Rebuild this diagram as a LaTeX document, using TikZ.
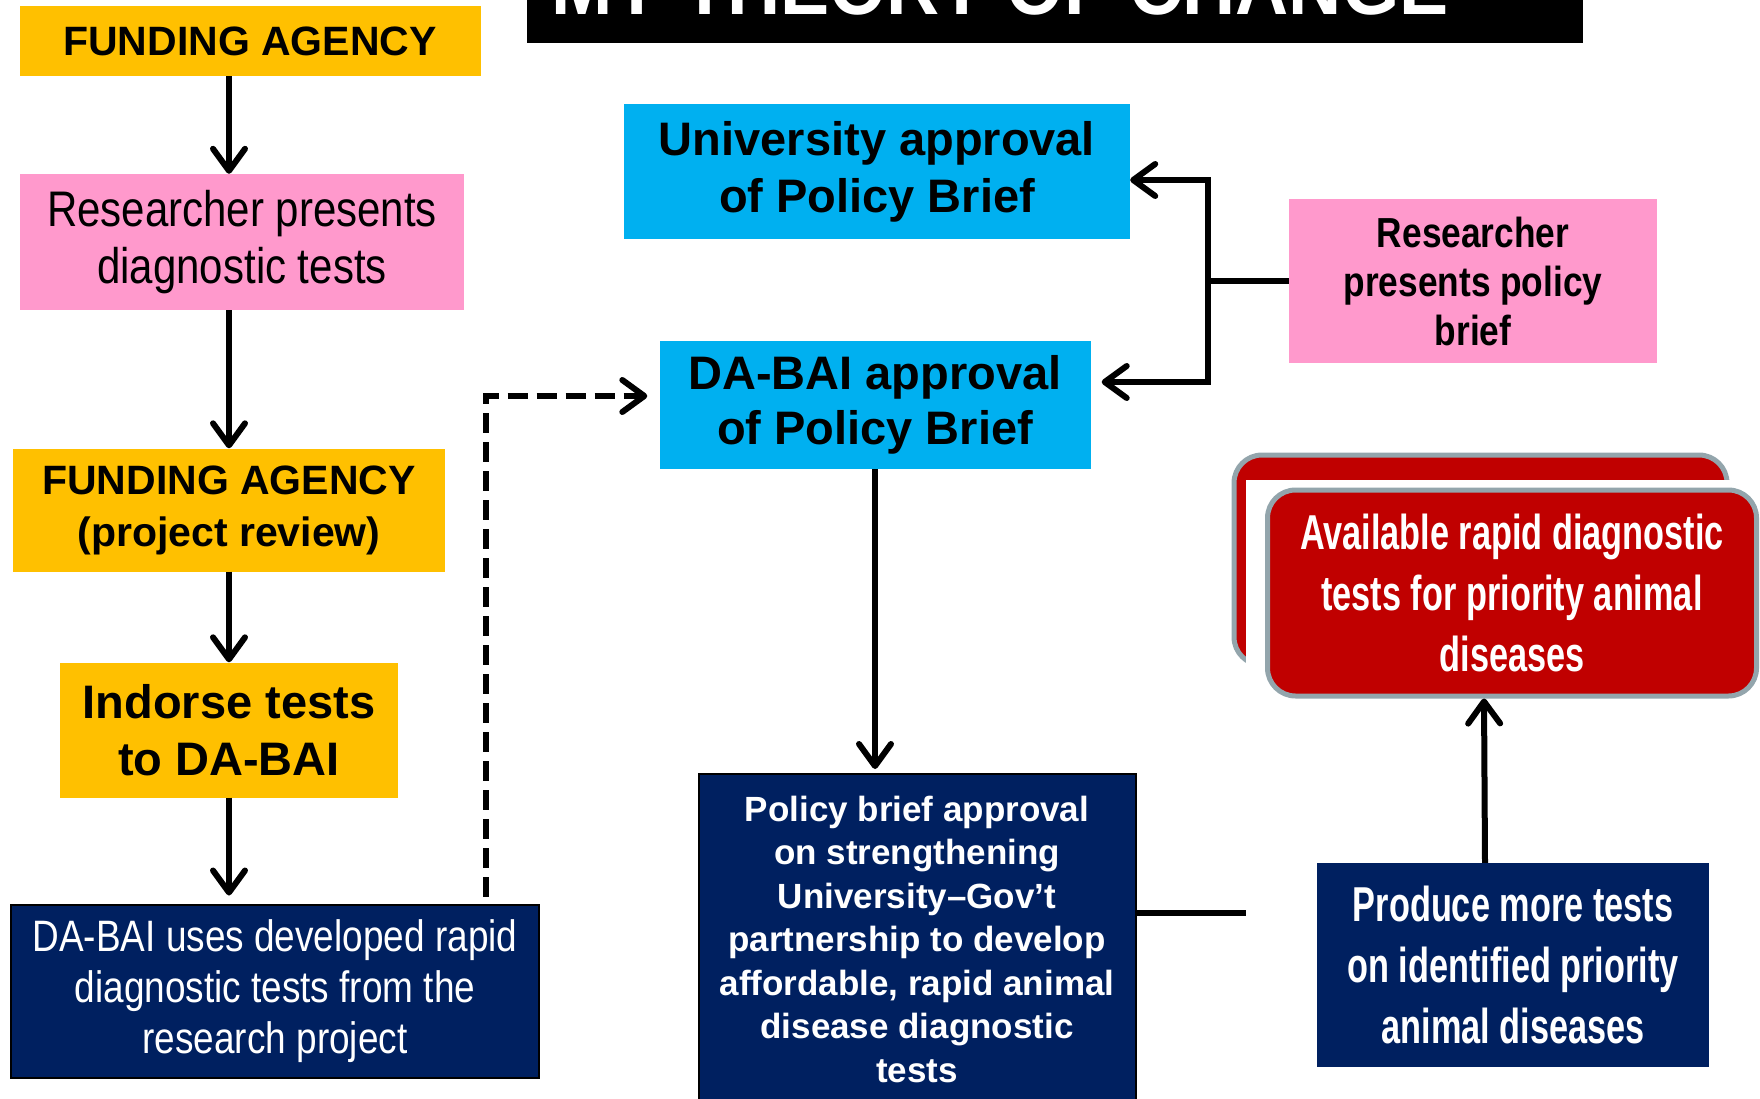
\documentclass[tikz,border=0pt]{standalone}
\usepackage{fontspec}
\setmainfont{Liberation Sans}
\newfontfamily\narrowfont[FakeStretch=0.84]{Liberation Sans}
\newfontfamily\condfont[FakeStretch=0.7]{Liberation Sans}
\newfontfamily\titlefont[FakeStretch=0.92]{Liberation Sans}
\usetikzlibrary{arrows.meta}

\definecolor{gold}{HTML}{FFC000}
\definecolor{rose}{HTML}{FF99CC}
\definecolor{sky}{HTML}{00B0F0}
\definecolor{navy}{HTML}{002060}
\definecolor{brick}{HTML}{C00000}
\definecolor{rim}{HTML}{93A5AC}

\tikzset{
  box/.style={inner sep=0pt, align=center},
  flow/.style={line width=6pt, -{Straight Barb[length=22pt,width=32pt,round]}},
  link/.style={line width=6pt},
}

\begin{document}
\begin{tikzpicture}[x=1pt,y=-1pt]
\useasboundingbox (0,0) rectangle (1760,1099);

% title bar, cut off at the top
\fill [black] (527,-30) rectangle (1583,43);
\node [box,text=white,anchor=base,font=\titlefont\bfseries\fontsize{80}{80}\selectfont]
    (title) at (1000,15) {MY THEORY OF CHANGE};

% left column
\node [box,fill=gold,minimum width=461,minimum height=70,
       font=\bfseries\fontsize{41}{50}\selectfont]
    (fund) at (250,41) {FUNDING AGENCY};
\node [box,fill=rose,minimum width=444,minimum height=136,
       font=\narrowfont\fontsize{50}{57}\selectfont]
    (present) at (242,242) {Researcher presents\\diagnostic tests};
\node [box,fill=gold,minimum width=432,minimum height=123,
       font=\bfseries\fontsize{41}{52}\selectfont]
    (review) at (229,510) {FUNDING AGENCY\\(project review)};
\node [box,fill=gold,minimum width=338,minimum height=135,
       font=\bfseries\fontsize{47}{57}\selectfont]
    (indorse) at (229,730) {Indorse tests\\to DA-BAI};
\node [box,fill=navy,draw=black,line width=2pt,text=white,
       minimum width=528,minimum height=173,
       font=\narrowfont\fontsize{44}{51}\selectfont]
    (uses) at (275,991) {DA-BAI uses developed rapid\\diagnostic tests from the\\research project};

% middle column
\node [box,fill=sky,minimum width=506,minimum height=135,
       font=\bfseries\fontsize{47}{57}\selectfont]
    (univ) at (877,172) {University approval\\of Policy Brief};
\node [box,fill=sky,minimum width=431,minimum height=128,
       font=\bfseries\fontsize{47}{55}\selectfont]
    (dbai) at (875,405) {DA-BAI approval\\of Policy Brief};
\node [box,fill=navy,draw=black,line width=2pt,text=white,
       minimum width=437,minimum height=330,
       font=\bfseries\fontsize{35}{43.5}\selectfont]
    (approve) at (917,939) {Policy brief approval\\on strengthening\\University–Gov’t\\
    partnership to develop\\affordable, rapid animal\\disease diagnostic\\tests};

% right column
\node [box,fill=rose,minimum width=368,minimum height=164,
       font=\narrowfont\bfseries\fontsize{42}{49}\selectfont]
    (polbrief) at (1473,281) {Researcher\\presents policy\\brief};
\draw [rim,fill=brick,line width=5pt,rounded corners=28]
    (1234,455) rectangle (1727,665);
\fill [white] (1246,480) rectangle (1760,680);
\node [box,fill=brick,draw=rim,line width=5pt,rounded corners=28,text=white,
       minimum width=489,minimum height=206,
       font=\condfont\bfseries\fontsize{49}{61}\selectfont]
    (avail) at (1512,593) {Available rapid diagnostic\\tests for priority animal\\diseases};
\node [box,fill=navy,text=white,minimum width=392,minimum height=204,
       font=\condfont\bfseries\fontsize{49}{61}\selectfont]
    (produce) at (1513,965) {Produce more tests\\on identified priority\\animal diseases};

% connectors
\coordinate (bend)  at (486,396);
\coordinate (split) at (1208,281);
\coordinate (stub)  at (1246,913);

\draw [flow] (fund.south -| review) -- (present.north -| review);
\draw [flow] (present.south -| review) -- (review.north);
\draw [flow] (review.south) -- (indorse.north);
\draw [flow,shorten >=8pt] (indorse.south) -- (uses.north -| indorse.south);
\draw [flow,dash pattern=on 20pt off 9pt,shorten <=7pt,shorten >=12pt]
    (uses.north -| bend) -- (bend) -- (bend -| dbai.west);
\draw [link] (polbrief.west) -- (split);
\draw [flow] (split) |- ([yshift=-8pt]univ.east);
\draw [flow,shorten >=11pt] (split) |- ([yshift=23pt]dbai.east);
\draw [flow,shorten >=4pt] (dbai.south) -- (approve.north -| dbai.south);
\draw [link] (approve.east |- stub) -- (stub);
\draw [flow] ([xshift=-28pt]produce.north) -- ([xshift=-28pt]avail.south);
\end{tikzpicture}
\end{document}
